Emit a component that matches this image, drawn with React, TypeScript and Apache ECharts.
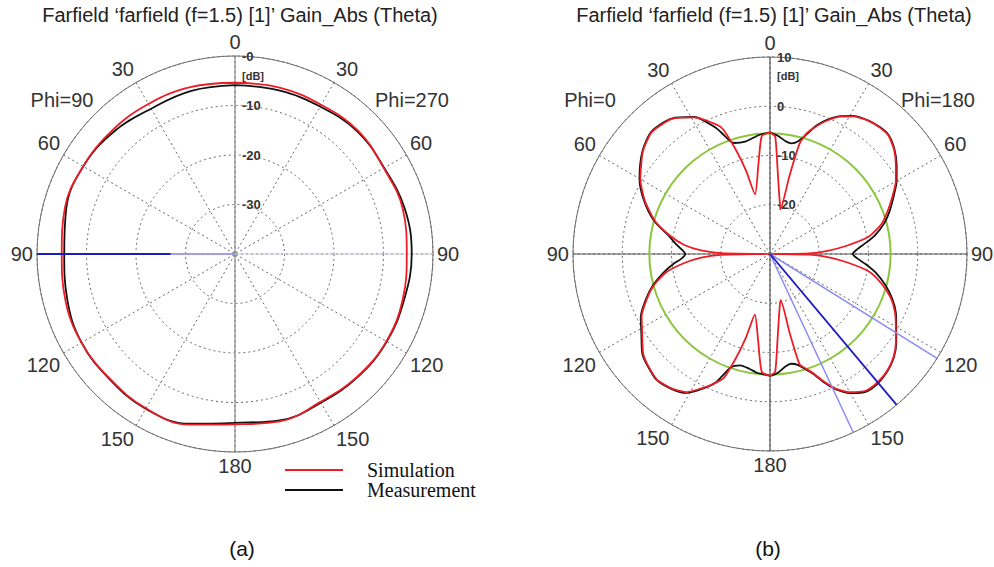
import React, { useEffect, useRef } from "react";
import * as echarts from "echarts";

// ---------- common ticks ----------
const angleTickLabels = ["0", "30", "60", "90", "120", "150", "180", "150", "120", "90", "60", "30"];

// ---------- plot (a) : Phi=90 / Phi=270 cut ----------
const aRadiusTickValues = [-30, -20, -10, 0];
const aRadiusTickLabels = ["-30", "-20", "-10", "-0"];
const aAngles = [0, 15, 30, 45, 60, 75, 90, 105, 120, 135, 150, 165, 180, 195, 210, 225, 240, 255, 270, 285, 300, 315, 330, 345, 360];
const aSimulation = [-5.4, -5.2, -5.2, -4.8, -5.3, -4.9, -5.3, -4.9, -4.7, -5.0, -5.5, -5.0, -5.6, -4.3, -4.0, -4.3, -4.2, -4.5, -5.0, -4.4, -4.6, -4.8, -5.0, -5.1, -5.4];
const aMeasurement = [-5.9, -5.8, -5.6, -5.0, -5.2, -4.5, -4.3, -4.6, -4.6, -4.9, -5.3, -5.2, -5.9, -4.5, -3.9, -4.2, -4.2, -4.9, -5.5, -4.7, -4.6, -5.2, -6.1, -5.9, -5.9];
const aBeamAngle = 270;
const aBeamMainFrom = -27;

// ---------- plot (b) : Phi=0 / Phi=180 cut ----------
const bRadiusTickValues = [-20, -10, 0, 10];
const bRadiusTickLabels = ["-20", "-10", "0", "10"];
const bMeasAngles = [0, 4, 8, 11, 14, 17, 20, 23, 27, 31, 36, 41, 45, 50, 55, 60, 65, 70, 75, 80, 84, 87, 90, 93, 96, 100, 105, 110, 115, 120, 125, 130, 135, 140, 145, 150, 154, 157, 160, 163, 166, 169, 172, 176, 180,
  184, 186, 190, 195, 199, 203, 207, 211, 216, 222, 228, 232, 238, 244, 250, 255, 260, 264, 267, 270, 273, 276, 280, 286, 293, 300, 309, 316, 324, 331, 337, 339, 342, 348, 355, 360];
const bMeasurement = [-5.3, -6.0, -6.9, -7.1, -6.4, -4.6, -2.2, -0.4, 1.4, 2.7, 3.6, 4.1, 4.1, 3.0, 1.4, -0.3, -2.3, -4.1, -6.0, -8.4, -10.8, -12.3, -13.2, -12.2, -10.5, -8.2, -5.8, -3.6, -1.8, -0.4, 1.3, 2.8, 3.7, 4.2, 4.1, 2.6, 0.6, -1.6, -4.0, -5.6, -6.8, -7.3, -7.0, -5.9, -5.3,
  -5.6, -5.7, -6.3, -6.6, -5.7, -1.6, 0.8, 2.9, 3.9, 4.4, 3.6, 2.9, 0.8, -0.8, -3.2, -5.4, -8.0, -10.2, -12.0, -12.8, -12.0, -10.8, -9.2, -5.5, -2.2, 0.6, 3.3, 4.6, 4.0, 1.8, -2.3, -4.3, -6.3, -6.6, -5.7, -5.3];
const bSimAngles = [0, 2.5, 5, 8, 11, 13, 14, 15, 17, 20, 23, 27, 31, 36, 41, 45, 50, 55, 60, 65, 70, 75, 80, 84, 87, 89, 90, 91, 93, 96, 100, 105, 110, 115, 120, 125, 130, 135, 140, 145, 150, 154, 157, 160, 163, 165, 166, 167, 169, 172, 175, 177.5, 180,
  184, 187.4, 194, 196, 198, 200.5, 204, 207, 211, 216, 222, 228, 232, 238, 244, 250, 255, 260, 264, 267, 269, 270, 271, 273, 276, 280, 286, 293, 300, 309, 316, 324, 331, 338, 339.5, 342, 344, 346, 352.6, 356, 360];
const bSimulation = [-5.3, -6.1, -12.5, -17, -19.5, -20.7, -13.5, -6.8, -4.3, -2.4, -0.6, 1.3, 2.6, 3.6, 4.0, 4.0, 2.9, 1.2, -0.5, -2.6, -4.6, -6.6, -9.6, -14.5, -18.5, -22, -30, -22, -18.5, -14.5, -9.6, -6.5, -3.9, -2.0, -0.5, 1.2, 2.7, 3.6, 4.0, 3.9, 2.4, 0.4, -1.8, -4.2, -5.8, -6.8, -13.5, -20.4, -19.5, -17, -12.5, -6.1, -5.3,
  -6.0, -11.7, -17.3, -12.5, -8.0, -3.1, -1.0, 0.6, 2.7, 3.8, 4.3, 3.5, 2.7, 0.6, -1.0, -3.4, -5.6, -8.6, -12.5, -16, -20, -30, -20, -16, -12.5, -9.6, -5.7, -2.4, 0.4, 3.2, 4.5, 3.9, 1.7, -1.8, -3.1, -8.0, -12.5, -17.5, -11.7, -6.0, -5.3];
const bRefLevel = -5.5;
const bRefAngles = [0, 10, 20, 30, 40, 50, 60, 70, 80, 90, 100, 110, 120, 130, 140, 150, 160, 170, 180, 190, 200, 210, 220, 230, 240, 250, 260, 270, 280, 290, 300, 310, 320, 330, 340, 350, 360];
const bBeamMainAngle = 140;
const bBeamEdgeAngles = [122, 155];

const FONT = "'Liberation Sans', Arial, Helvetica, sans-serif";
const SERIF = "'Liberation Serif', 'Times New Roman', serif";
const RED = "#ee1c25";
const BLACK = "#111111";

function pairs(angles: number[], values: number[]) {
  return angles.map((a, i) => [values[i], a]);
}

function labelFrom(values: number[], labels: string[]) {
  return (v: number) => {
    const i = values.indexOf(Math.round(v));
    return i >= 0 ? labels[i] : "";
  };
}

function angleAxisFor(polarIndex: number) {
  return {
    polarIndex,
    type: "value",
    min: 0,
    max: 360,
    interval: 30,
    startAngle: 90,
    clockwise: true,
    axisLine: { show: true, lineStyle: { color: "#6e6e6e", width: 1 } },
    axisTick: { show: false },
    axisLabel: {
      show: true,
      margin: 4,
      fontSize: 20,
      fontFamily: FONT,
      color: "#333",
      formatter: (v: number) => angleTickLabels[Math.round(v / 30) % 12],
    },
    splitLine: { show: true, lineStyle: { color: "#666", width: 1, type: [2, 3] } },
  };
}

function radiusAxisFor(polarIndex: number, min: number, max: number, values: number[], labels: string[]) {
  return {
    polarIndex,
    type: "value",
    min,
    max,
    interval: 10,
    axisLine: { show: false },
    axisTick: { show: false },
    axisLabel: {
      show: true,
      showMinLabel: false,
      margin: -7,
      align: "left",
      verticalAlign: "middle",
      fontSize: 13,
      fontWeight: "bold",
      fontFamily: FONT,
      color: "#333",
      formatter: labelFrom(values, labels),
    },
    splitLine: { show: true, lineStyle: { color: "#666", width: 1, type: [2, 3] } },
  };
}

function seg(name: string, polarIndex: number, data: number[][], color: string, width: number, z = 2) {
  return {
    name,
    type: "line",
    coordinateSystem: "polar",
    polarIndex,
    data,
    symbol: "none",
    silent: true,
    z,
    lineStyle: { color, width },
  };
}

export default function App() {
  const ref = useRef<HTMLDivElement>(null);
  useEffect(() => {
    document.body.style.margin = "0";
    if (!ref.current) return;
    const chart = echarts.init(ref.current, undefined, { renderer: "svg" });
    const aMin = -40, aMax = 0, bMin = -30, bMax = 10;
    const title = "Farfield \u2018farfield (f=1.5) [1]\u2019 Gain_Abs (Theta)";
    chart.setOption({
      animation: false,
      backgroundColor: "#ffffff",
      polar: [
        { center: [235, 254], radius: 198 },
        { center: [770, 254], radius: 197 },
      ],
      angleAxis: [angleAxisFor(0), angleAxisFor(1)],
      radiusAxis: [
        radiusAxisFor(0, aMin, aMax, aRadiusTickValues, aRadiusTickLabels),
        radiusAxisFor(1, bMin, bMax, bRadiusTickValues, bRadiusTickLabels),
      ],
      legend: {
        data: [
          { name: "Simulation", icon: "rect", itemStyle: { color: RED } },
          { name: "Measurement", icon: "rect", itemStyle: { color: BLACK } },
        ],
        orient: "vertical",
        left: 280,
        top: 455,
        itemWidth: 58,
        itemHeight: 2,
        itemGap: 0,
        selectedMode: false,
        textStyle: { fontFamily: SERIF, fontSize: 20, color: "#111", lineHeight: 20, padding: [0, 0, 0, 19] },
      },
      graphic: [
        { type: "text", x: 240, y: 15, style: { text: title, font: `20px ${FONT}`, fill: "#222", textAlign: "center", textVerticalAlign: "middle" } },
        { type: "text", x: 774, y: 15, style: { text: title, font: `20px ${FONT}`, fill: "#222", textAlign: "center", textVerticalAlign: "middle" } },
        { type: "text", x: 62, y: 100, style: { text: "Phi=90", font: `20px ${FONT}`, fill: "#333", textAlign: "center", textVerticalAlign: "middle" } },
        { type: "text", x: 412, y: 100, style: { text: "Phi=270", font: `20px ${FONT}`, fill: "#333", textAlign: "center", textVerticalAlign: "middle" } },
        { type: "text", x: 590, y: 100, style: { text: "Phi=0", font: `20px ${FONT}`, fill: "#333", textAlign: "center", textVerticalAlign: "middle" } },
        { type: "text", x: 938, y: 100, style: { text: "Phi=180", font: `20px ${FONT}`, fill: "#333", textAlign: "center", textVerticalAlign: "middle" } },
        { type: "text", x: 242, y: 76, style: { text: "[dB]", font: `bold 11px ${FONT}`, fill: "#333", textAlign: "left", textVerticalAlign: "middle" } },
        { type: "text", x: 777, y: 76, style: { text: "[dB]", font: `bold 11px ${FONT}`, fill: "#333", textAlign: "left", textVerticalAlign: "middle" } },
        { type: "text", x: 242, y: 548, style: { text: "(a)", font: `21px ${FONT}`, fill: "#111", textAlign: "center", textVerticalAlign: "middle" } },
        { type: "text", x: 768, y: 548, style: { text: "(b)", font: `21px ${FONT}`, fill: "#111", textAlign: "center", textVerticalAlign: "middle" } },
      ],
      series: [
        // plot (a) axes cross
        seg("axisAV", 0, [[aMax, 0], [aMin, 0], [aMax, 180]], "#8a8a8a", 1.2),
        seg("axisAH", 0, [[aMax, 90], [aMin, 90], [aMax, 270]], "#c9c9d6", 1.2),
        seg("beamAEdge", 0, [[aMin, aBeamAngle], [aBeamMainFrom, aBeamAngle]], "#8c8cf0", 1.5),
        {
          name: "Measurement", type: "line", coordinateSystem: "polar", polarIndex: 0,
          data: pairs(aAngles, aMeasurement), symbol: "none", smooth: 0.4, z: 3,
          itemStyle: { color: BLACK }, lineStyle: { color: BLACK, width: 1.8 },
        },
        {
          name: "Simulation", type: "line", coordinateSystem: "polar", polarIndex: 0,
          data: pairs(aAngles, aSimulation), symbol: "none", smooth: 0.4, z: 4,
          itemStyle: { color: RED }, lineStyle: { color: RED, width: 1.8 },
        },
        seg("beamAMain", 0, [[aBeamMainFrom, aBeamAngle], [aMax, aBeamAngle]], "#1c1cc4", 1.8, 5),
        // plot (b)
        seg("axisBV", 1, [[bMax, 0], [bMin, 0], [bMax, 180]], "#555555", 1.2),
        seg("axisBH", 1, [[bMax, 90], [bMin, 90], [bMax, 270]], "#555555", 1.2),
        {
          name: "reference", type: "line", coordinateSystem: "polar", polarIndex: 1,
          data: bRefAngles.map((a) => [bRefLevel, a]), symbol: "none", smooth: 0.5, silent: true, z: 2,
          lineStyle: { color: "#8cc63f", width: 2 },
        },
        {
          name: "Measurement", type: "line", coordinateSystem: "polar", polarIndex: 1,
          data: pairs(bMeasAngles, bMeasurement), symbol: "none", smooth: 0.25, z: 3,
          itemStyle: { color: BLACK }, lineStyle: { color: BLACK, width: 1.8 },
        },
        {
          name: "Simulation", type: "line", coordinateSystem: "polar", polarIndex: 1,
          data: pairs(bSimAngles, bSimulation), symbol: "none", smooth: 0.2, z: 4,
          itemStyle: { color: RED }, lineStyle: { color: RED, width: 1.8 },
        },
        seg("beamBEdge1", 1, [[bMin, bBeamEdgeAngles[0]], [bMax, bBeamEdgeAngles[0]]], "#8c8cf0", 1.5, 5),
        seg("beamBEdge2", 1, [[bMin, bBeamEdgeAngles[1]], [bMax, bBeamEdgeAngles[1]]], "#8c8cf0", 1.5, 5),
        seg("beamBMain", 1, [[bMin, bBeamMainAngle], [bMax, bBeamMainAngle]], "#1c1cc4", 1.8, 5),
      ],
    });
    return () => chart.dispose();
  }, []);
  return <div ref={ref} style={{ width: 994, height: 567 }} />;
}
